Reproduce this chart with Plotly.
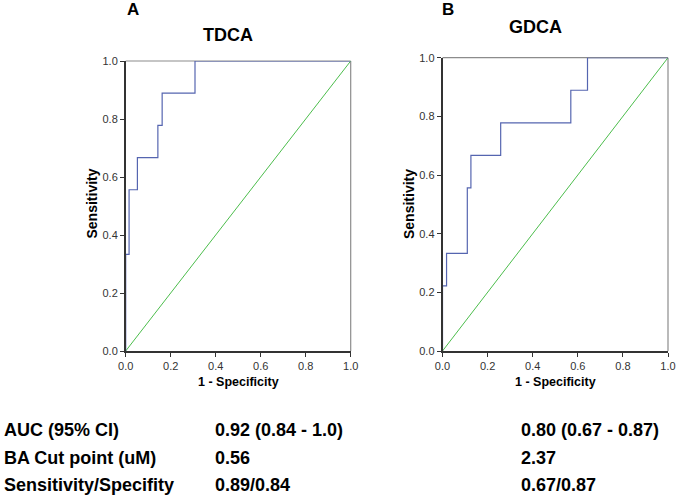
import plotly.graph_objects as go

# ROC step curves (1 - specificity, sensitivity)
tdca_fpr = [0.0, 0.0, 0.015, 0.015, 0.052, 0.052, 0.143, 0.143, 0.162, 0.162, 0.308, 0.308, 1.0]
tdca_tpr = [0.0, 0.333, 0.333, 0.556, 0.556, 0.667, 0.667, 0.778, 0.778, 0.889, 0.889, 1.0, 1.0]
gdca_fpr = [0.0, 0.0, 0.018, 0.018, 0.110, 0.110, 0.126, 0.126, 0.258, 0.258, 0.569, 0.569, 0.643, 0.643, 1.0]
gdca_tpr = [0.0, 0.222, 0.222, 0.333, 0.333, 0.556, 0.556, 0.667, 0.667, 0.778, 0.778, 0.889, 0.889, 1.0, 1.0]
ref_line = [0.0, 1.0]

panel_letters = ["A", "B"]
panel_titles = ["TDCA", "GDCA"]
tick_vals = [0.0, 0.2, 0.4, 0.6, 0.8, 1.0]
tick_text = ["0.0", "0.2", "0.4", "0.6", "0.8", "1.0"]

row_labels = ["AUC (95% CI)", "BA Cut point (uM)", "Sensitivity/Specifity"]
tdca_stats = ["0.92 (0.84 - 1.0)", "0.56", "0.89/0.84"]
gdca_stats = ["0.80 (0.67 - 0.87)", "2.37", "0.67/0.87"]

W, H = 676, 502
FONT = "Arial, 'Liberation Sans', sans-serif"
BLUE = "#5565b0"
GREEN = "#4cbd4c"

def px(x): return x / W
def py(y): return 1 - y / H

fig = go.Figure()
fig.add_trace(go.Scatter(x=ref_line, y=ref_line, mode="lines", line=dict(color=GREEN, width=1),
                         xaxis="x", yaxis="y", showlegend=False, hoverinfo="skip"))
fig.add_trace(go.Scatter(x=tdca_fpr, y=tdca_tpr, mode="lines", line=dict(color=BLUE, width=1.2),
                         xaxis="x", yaxis="y", showlegend=False))
fig.add_trace(go.Scatter(x=ref_line, y=ref_line, mode="lines", line=dict(color=GREEN, width=1),
                         xaxis="x2", yaxis="y2", showlegend=False, hoverinfo="skip"))
fig.add_trace(go.Scatter(x=gdca_fpr, y=gdca_tpr, mode="lines", line=dict(color=BLUE, width=1.2),
                         xaxis="x2", yaxis="y2", showlegend=False))

ax = dict(range=[0, 1], tickvals=tick_vals, ticktext=tick_text, showgrid=False, zeroline=False,
          showline=True, linecolor="#333333", linewidth=1.5, ticks="outside", ticklen=4,
          tickcolor="#333333", tickfont=dict(family=FONT, size=11, color="#333333"),
          fixedrange=True, automargin=False)

fig.update_layout(
    width=W, height=H, margin=dict(l=0, r=0, t=0, b=0, pad=0),
    paper_bgcolor="white", plot_bgcolor="white",
    xaxis=dict(ax, domain=[px(125.7), px(350.7)], anchor="y"),
    yaxis=dict(ax, domain=[py(351), py(61)], anchor="x"),
    xaxis2=dict(ax, domain=[px(442.5), px(668)], anchor="y2"),
    yaxis2=dict(ax, domain=[py(351), py(57.7)], anchor="x2"),
)

# gray top/right frame
for xr, yr in [("x", "y"), ("x2", "y2")]:
    fig.add_shape(type="line", xref=f"{xr} domain", yref=f"{yr} domain", x0=0, x1=1, y0=1, y1=1,
                  line=dict(color="#8c8c8c", width=1.2), layer="below")
    fig.add_shape(type="line", xref=f"{xr} domain", yref=f"{yr} domain", x0=1, x1=1, y0=0, y1=1,
                  line=dict(color="#8c8c8c", width=1.2), layer="below")

ann = []
def text(x, y, s, size, xanchor="center", angle=0):
    ann.append(dict(x=px(x), y=py(y), xref="paper", yref="paper", text=s, showarrow=False,
                    xanchor=xanchor, yanchor="middle", textangle=angle,
                    font=dict(family=FONT, size=size, color="black")))

text(133, 9.5, f"<b>{panel_letters[0]}</b>", 17)
text(227.5, 35, f"<b>{panel_titles[0]}</b>", 18)
text(447.5, 9.5, f"<b>{panel_letters[1]}</b>", 17)
text(535, 27.5, f"<b>{panel_titles[1]}</b>", 18)
text(238.5, 381.5, "<b>1 - Specificity</b>", 12.5)
text(555.5, 381.5, "<b>1 - Specificity</b>", 12.5)
text(91.5, 204, "<b>Sensitivity</b>", 14, angle=-90)
text(409, 204, "<b>Sensitivity</b>", 14, angle=-90)

row_y = [430, 458, 485]
for i in range(3):
    text(2, row_y[i], f"<b>{row_labels[i]}</b>", 18, xanchor="left")
    text(213, row_y[i], f"<b>{tdca_stats[i]}</b>", 18, xanchor="left")
    text(519, row_y[i], f"<b>{gdca_stats[i]}</b>", 18, xanchor="left")

fig.update_layout(annotations=ann)
fig.write_html("out.html", config={"displayModeBar": False},
               post_script="document.body.style.margin='0px';document.body.style.overflow='hidden';")
